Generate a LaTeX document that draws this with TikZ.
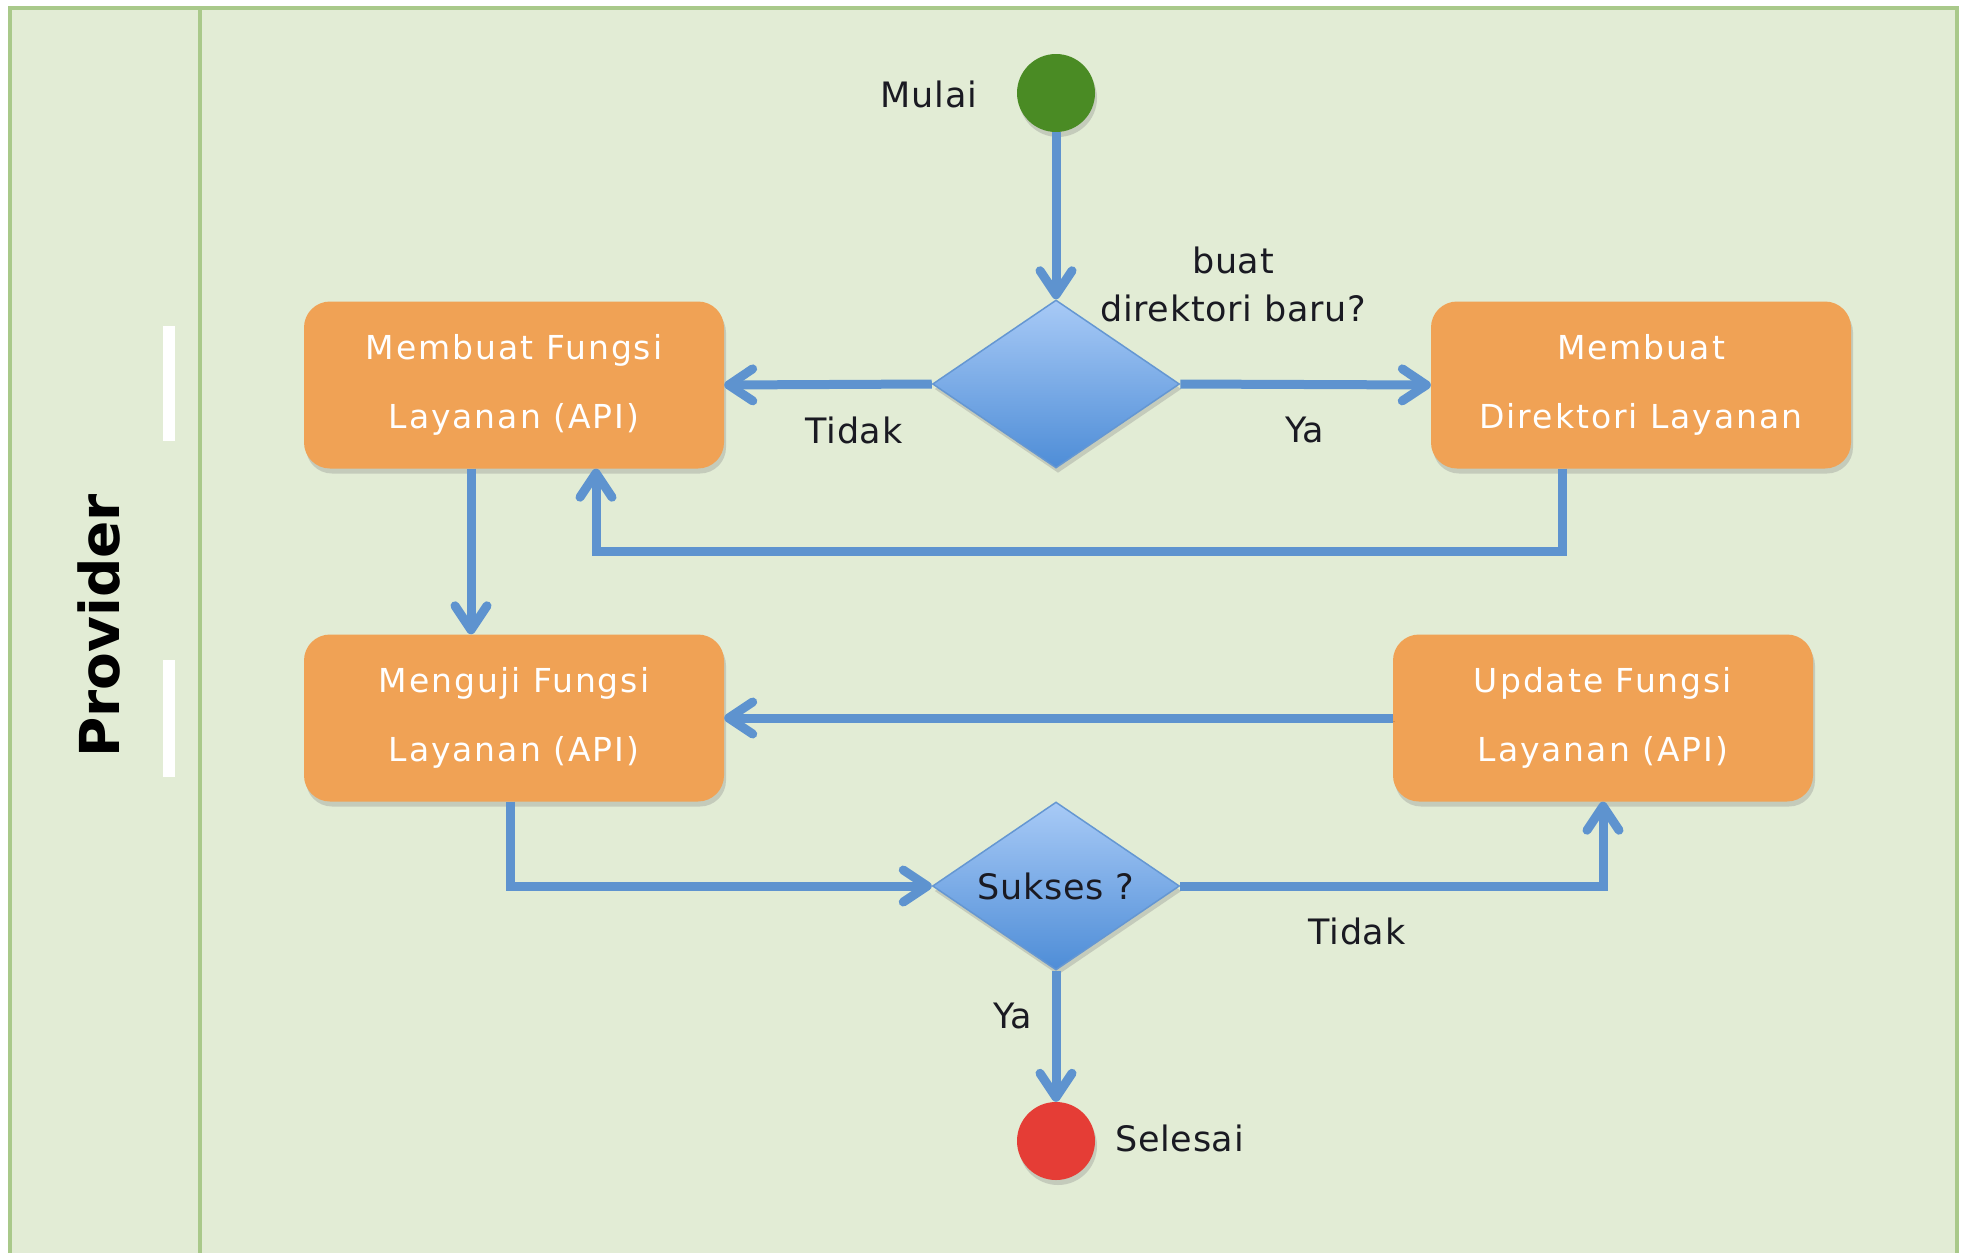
\documentclass[tikz,border=0pt]{standalone}
\usepackage{fontspec}
\setmainfont{DejaVu Sans}
\newfontfamily\boxfont[LetterSpace=6]{DejaVu Sans}
\newfontfamily\lblfont[LetterSpace=2]{DejaVu Sans}
\usetikzlibrary{shapes.geometric,arrows.meta,shadows}
\definecolor{lanebg}{HTML}{E2ECD5}
\definecolor{laneln}{HTML}{A9C98A}
\definecolor{boxor}{HTML}{F0A255}
\definecolor{flow}{HTML}{5E93CF}
\definecolor{dtop}{HTML}{A8CAF6}
\definecolor{dbot}{HTML}{4E8DD7}
\definecolor{dline}{HTML}{6597D2}
\definecolor{startg}{HTML}{4A8B24}
\definecolor{endr}{HTML}{E53D36}
\definecolor{txt}{HTML}{1A1A22}
\begin{document}
\begin{tikzpicture}[x=1pt,y=-1pt,
  shad/.style={drop shadow={shadow xshift=2pt,shadow yshift=-5pt,opacity=0.3}},
  act/.style={rectangle, rounded corners=26pt, fill=boxor, minimum width=420pt, minimum height=167pt, text=white, align=center, font=\boxfont\fontsize{33}{69}\selectfont, inner sep=0pt, shad},
  dec/.style={diamond, aspect=1.47, minimum width=247pt, minimum height=168pt, inner sep=0pt, top color=dtop, bottom color=dbot, draw=dline, line width=1.5pt, text=txt, font=\lblfont\fontsize{35}{48}\selectfont, shad},
  term/.style={circle, minimum size=78pt, inner sep=0pt, shad},
  lbl/.style={text=txt, font=\lblfont\fontsize{35}{48}\selectfont, inner sep=0pt, align=center},
  arr/.style={draw=flow, line width=9pt, -{Straight Barb[length=24pt,width=32pt,round]},
    preaction={draw=black, opacity=0.12, transform canvas={shift={(2pt,-3pt)}}}},
]
\useasboundingbox (0,0) rectangle (1964,1253);
% swimlane
\fill[lanebg] (10,8) rectangle (1957,1253);
\draw[laneln, line width=3.5pt] (10,1253) -- (10,8) -- (1957,8) -- (1957,1253);
\draw[laneln, line width=3.5pt] (200,8) -- (200,1253);
\fill[white] (163,326) rectangle (175,441);
\fill[white] (163,660) rectangle (175,777);
\node[rotate=90, font=\fontsize{55}{60}\selectfont\bfseries, text=black, inner sep=0pt] (lane) at (99,626) {Provider};

% nodes
\node[term, fill=startg] (start) at (1056,93) {};
\node[lbl] (mulai) at (929,94) {Mulai};
\node[dec] (d1) at (1056,384) {};
\node[lbl] (q1) at (1233,284) {buat\\direktori baru?};
\node[act] (b1) at (514,385) {Membuat Fungsi\\Layanan (API)};
\node[act] (b2) at (1641,385) {Membuat\\Direktori Layanan};
\node[act] (b3) at (514,718) {Menguji Fungsi\\Layanan (API)};
\node[act] (b4) at (1603,718) {Update Fungsi\\Layanan (API)};
\node[dec] (d2) at (1056,886) {Sukses ?};
\node[term, fill=endr] (stop) at (1056,1141) {};
\node[lbl, anchor=west] (selesai) at (1115,1138) {Selesai};
\node[lbl] (tidak1) at (854,430) {Tidak};
\node[lbl] (ya1) at (1305,430) {Ya};
\node[lbl] (tidak2) at (1357,931) {Tidak};
\node[lbl] (ya2) at (1013,1016) {Ya};

% connectors
\draw[arr] (start.south) -- (d1.north);
\draw[arr] (d1.west) -- (b1.east);
\draw[arr] (d1.east) -- (b2.west);
\draw[arr] ([xshift=-79pt]b2.south) |- ([xshift=82pt,yshift=-83pt]b1.south) -- ([xshift=82pt]b1.south);
\draw[arr] ([xshift=-43pt]b1.south) -- ([xshift=-43pt]b3.north);
\draw[arr] (b4.west) -- (b3.east);
\draw[arr] ([xshift=-4pt]b3.south) |- (d2.west);
\draw[arr] (d2.east) -| (b4.south);
\draw[arr] (d2.south) -- (stop.north);
\end{tikzpicture}
\end{document}
